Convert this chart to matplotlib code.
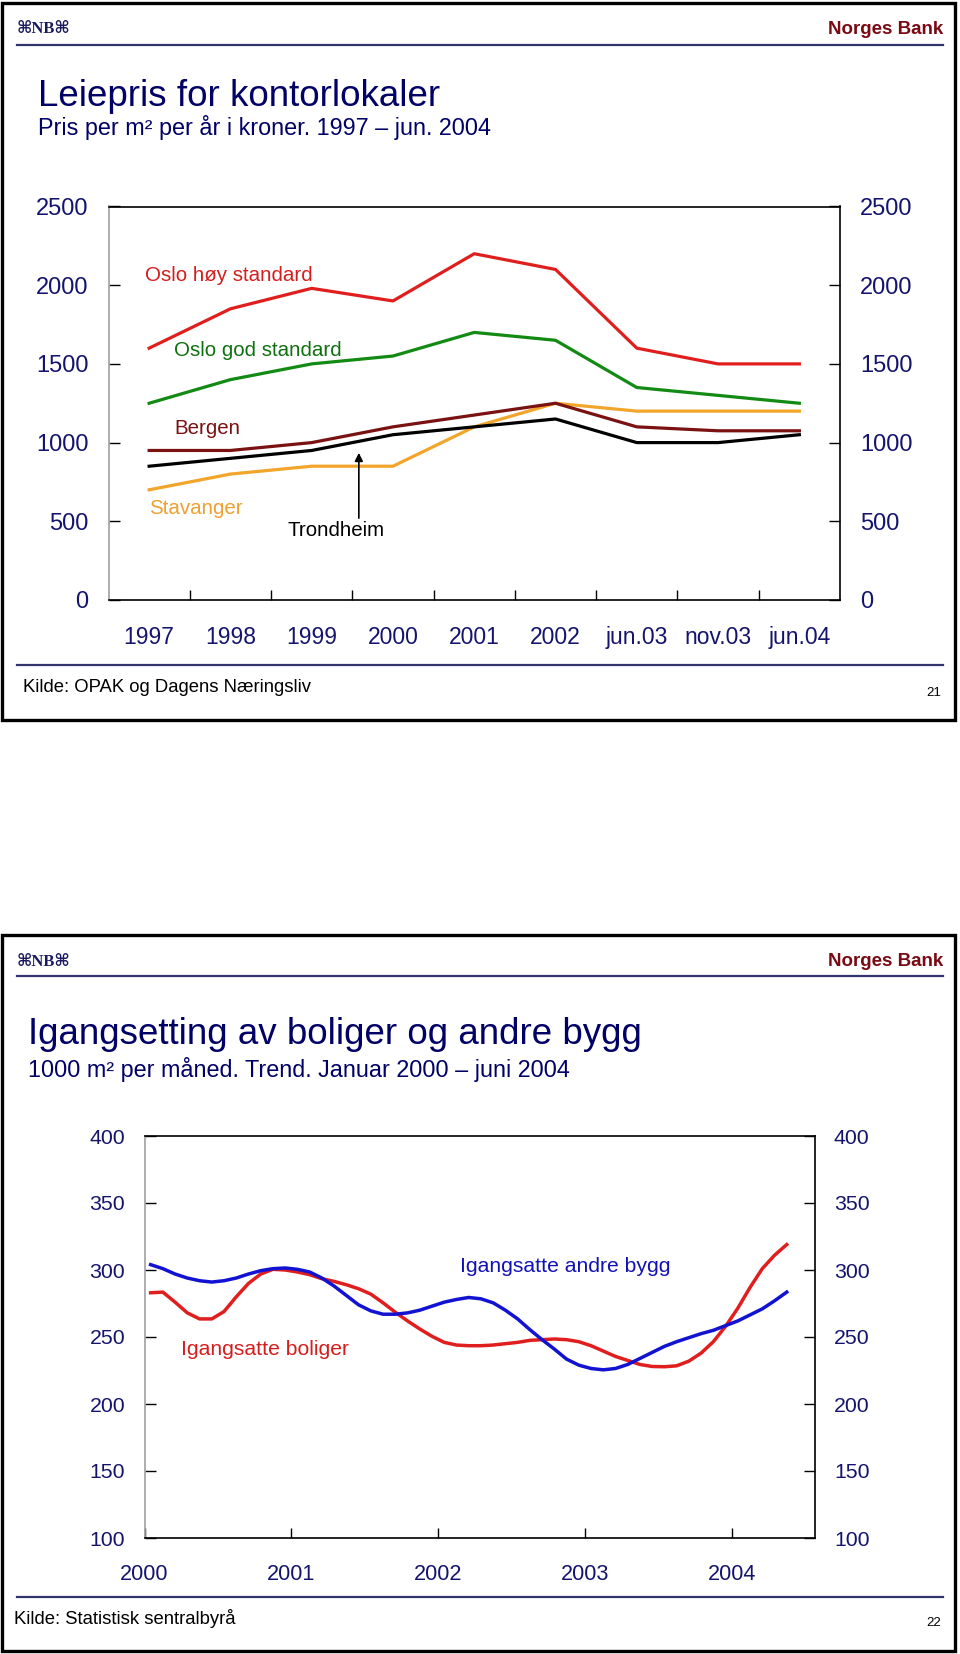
import matplotlib
matplotlib.use('Agg')
import matplotlib.pyplot as plt
from matplotlib.patches import Rectangle
from matplotlib.lines import Line2D
import numpy as np
import pandas as pd

plt.rcParams['font.family'] = ['Liberation Sans', 'DejaVu Sans']

# ---------------- Chart 1 data ----------------
periods = ['1997', '1998', '1999', '2000', '2001', '2002', 'jun.03', 'nov.03', 'jun.04']
oslo_hoy = [1600, 1850, 1980, 1900, 2200, 2100, 1600, 1500, 1500]
oslo_god = [1250, 1400, 1500, 1550, 1700, 1650, 1350, 1300, 1250]
bergen = [950, 950, 1000, 1100, 1175, 1250, 1100, 1075, 1075]
trondheim = [850, 900, 950, 1050, 1100, 1150, 1000, 1000, 1050]
stavanger = [700, 800, 850, 850, 1100, 1250, 1200, 1200, 1200]
y1_ticks = [0, 500, 1000, 1500, 2000, 2500]

# ---------------- Chart 2 data (monthly trend, 1000 m2) ----------------
months = pd.date_range('2000-01-01', periods=53, freq='MS')
boliger = [283, 283.5, 276, 268, 263.5, 263.5, 269, 280, 290, 297,
           300.5, 300, 298.5, 296.5, 293.5, 291.5, 289, 286, 282, 275.5,
           268.5, 262, 256, 250.5, 246, 244, 243.5, 243.5, 244, 245,
           246, 247.5, 248, 248.5, 248, 246.5, 243.5, 239.5, 235.5, 232.5,
           229.5, 228, 227.8, 228.5, 232, 238, 246.5, 258, 271.5, 287,
           301, 311, 319]
andre_bygg = [304, 301, 297, 294, 292, 291, 292, 294, 297, 299.5,
              301, 301.5, 300.5, 298.5, 294, 288, 281, 274, 269.5, 267,
              267, 268, 270, 273, 276, 278, 279.5, 278.5, 275.5, 270,
              263.5, 255.5, 248, 241, 233.5, 229, 226.5, 225.5, 226.5, 229.5,
              234, 238.5, 243, 246.5, 249.5, 252.5, 255, 258.5, 262, 266.5,
              271, 277, 283.5]
year_ticks = [2000, 2001, 2002, 2003, 2004]
y2_ticks = [100, 150, 200, 250, 300, 350, 400]

# ---------------- Figure ----------------
W, H = 960, 1654
fig = plt.figure(figsize=(W / 100, H / 100), dpi=100)
fig.patch.set_facecolor('white')


def fx(px):
    return px / W


def fy(py):
    return 1 - py / H


NAVY = '#14146e'
TITLE = '#000066'
DARKRED = '#7a0a14'


def panel(top, bottom, logo_y, line_y, title_y, sub_y, title_x, title, subtitle,
          foot_line_y, kilde_x, kilde_y, kilde, page, page_y):
    fig.add_artist(Rectangle((fx(2), fy(bottom)), fx(955) - fx(2), fy(top) - fy(bottom),
                             transform=fig.transFigure, fill=False, lw=2.4,
                             edgecolor='black'))
    fig.text(fx(17), fy(logo_y), '⌘NB⌘', family=['Liberation Serif', 'DejaVu Sans'],
             weight='bold', fontsize=12, color='#1a1a5e', va='center', ha='left')
    fig.text(fx(943), fy(logo_y), 'Norges Bank', fontsize=13.5, weight='bold',
             color=DARKRED, va='center', ha='right')
    fig.add_artist(Line2D([fx(17), fx(943)], [fy(line_y), fy(line_y)],
                          transform=fig.transFigure, color='#33336e', lw=1.6))
    fig.text(fx(title_x), fy(title_y), title, fontsize=26.5, color=TITLE,
             va='center', ha='left')
    fig.text(fx(title_x), fy(sub_y), subtitle, fontsize=16.8, color=TITLE,
             va='center', ha='left')
    fig.add_artist(Line2D([fx(17), fx(943)], [fy(foot_line_y), fy(foot_line_y)],
                          transform=fig.transFigure, color='#33336e', lw=1.6))
    fig.text(fx(kilde_x), fy(kilde_y), kilde, fontsize=13.3, color='black',
             va='center', ha='left')
    fig.text(fx(941), fy(page_y), page, fontsize=9.5, color='black',
             va='center', ha='right')


panel(3, 720, 29, 44.5, 96, 127, 38, 'Leiepris for kontorlokaler',
      'Pris per m² per år i kroner. 1997 – jun. 2004',
      665, 23, 687, 'Kilde: OPAK og Dagens Næringsliv', '21', 693)
panel(935, 1651, 962, 976, 1034, 1070, 28, 'Igangsetting av boliger og andre bygg',
      '1000 m² per måned. Trend. Januar 2000 – juni 2004',
      1597, 14, 1619, 'Kilde: Statistisk sentralbyrå', '22', 1623)

# ---------------- Chart 1 ----------------
l1, r1, t1, b1 = 108.5, 840, 206.5, 600
ax1 = fig.add_axes([fx(l1), fy(b1), fx(r1) - fx(l1), fy(t1) - fy(b1)])
xc = np.arange(len(periods))
ax1.plot(xc, stavanger, color='#f2a52a', lw=2.3)
ax1.plot(xc, trondheim, color='black', lw=2.3)
ax1.plot(xc, bergen, color='#7a1212', lw=2.3)
ax1.plot(xc, oslo_god, color='#138a13', lw=2.3)
ax1.plot(xc, oslo_hoy, color='#e01e1e', lw=2.3)
ax1.set_xlim(-0.5, len(periods) - 0.5)
ax1.set_ylim(0, 2500)
ax1.set_yticks(y1_ticks)
ax1.set_xticks(xc)
ax1.set_xticklabels(periods)
ax1.set_xticks(np.arange(0.5, len(periods) - 1, 1), minor=True)
ax1.tick_params(axis='x', which='major', length=0, pad=19, labelsize=16.5,
                labelcolor=NAVY)
ax1.tick_params(axis='x', which='minor', direction='in', length=7, width=1)
ax1.tick_params(axis='y', direction='in', length=8, width=1, left=True, right=True,
                labelleft=True, labelright=True, pad=14.5, labelsize=17,
                labelcolor=NAVY)
for s in ['top', 'right', 'bottom']:
    ax1.spines[s].set_color('black')
    ax1.spines[s].set_linewidth(1.2)
ax1.spines['left'].set_color('#a0a0a0')
ax1.spines['left'].set_linewidth(1.2)

lab_fs = 14.8
ax1.text(-0.05, 2062, 'Oslo høy standard', color='#d41e1e', fontsize=lab_fs,
         va='center', ha='left')
ax1.text(0.31, 1586, 'Oslo god standard', color='#0f700f', fontsize=lab_fs,
         va='center', ha='left')
ax1.text(0.31, 1091, 'Bergen', color='#7a1010', fontsize=lab_fs,
         va='center', ha='left')
ax1.text(0.0, 584, 'Stavanger', color='#f0a030', fontsize=lab_fs,
         va='center', ha='left')
ax1.text(2.30, 444, 'Trondheim', color='black', fontsize=lab_fs,
         va='center', ha='center')
ax1.annotate('', xy=(2.58, 935), xytext=(2.58, 520),
             arrowprops=dict(arrowstyle='-|>', color='black', lw=1.2,
                             mutation_scale=12, shrinkA=0, shrinkB=0))

# ---------------- Chart 2 ----------------
l2, r2, t2, b2 = 144.5, 814.5, 1136, 1538
ax2 = fig.add_axes([fx(l2), fy(b2), fx(r2) - fx(l2), fy(t2) - fy(b2)])
xm = months.year + (months.month - 0.5) / 12.0
ax2.plot(xm, boliger, color='#e01e1e', lw=2.5)
ax2.plot(xm, andre_bygg, color='#1212d2', lw=2.5)
ax2.set_xlim(2000, 2000 + (r2 - l2) / 146.8)
ax2.set_ylim(100, 400)
ax2.set_yticks(y2_ticks)
ax2.set_xticks(year_ticks)
ax2.set_xticklabels([str(y) for y in year_ticks])
ax2.tick_params(axis='x', direction='in', length=7, width=1, pad=18.5,
                labelsize=15.6, labelcolor=NAVY)
ax2.tick_params(axis='y', direction='in', length=8, width=1, left=True, right=True,
                labelleft=True, labelright=True, pad=14, labelsize=15.3,
                labelcolor=NAVY)
for s in ['top', 'right', 'bottom']:
    ax2.spines[s].set_color('black')
    ax2.spines[s].set_linewidth(1.2)
ax2.spines['left'].set_color('#a0a0a0')
ax2.spines['left'].set_linewidth(1.2)

ax2.text(2002.149, 302.5, 'Igangsatte andre bygg', color='#1212b4', fontsize=15.2,
         va='center', ha='left')
ax2.text(2000.249, 240.3, 'Igangsatte boliger', color='#d41e1e', fontsize=15.2,
         va='center', ha='left')

fig.savefig('out.png', dpi=100, facecolor='white')
